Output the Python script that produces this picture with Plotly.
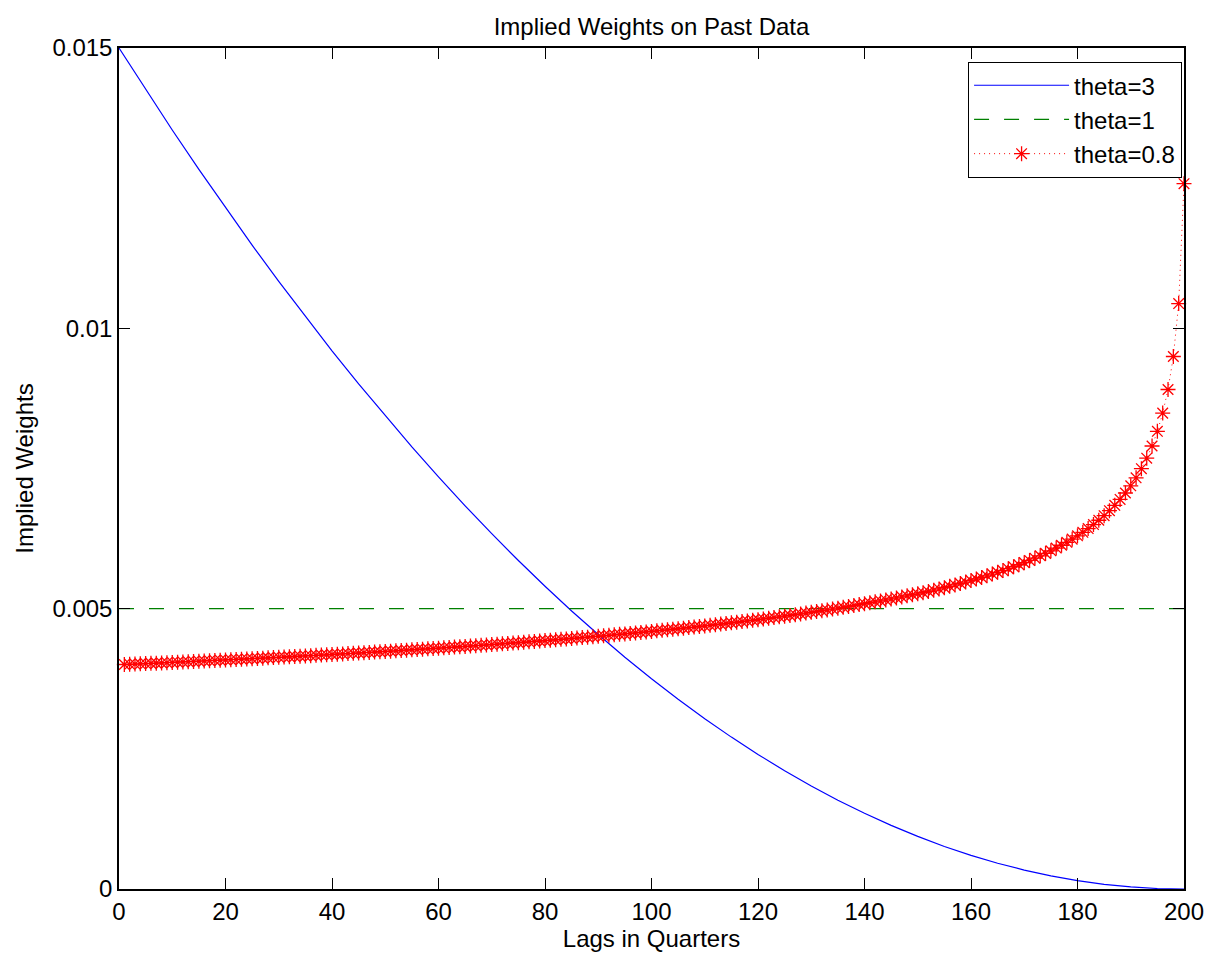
import plotly.graph_objects as go

# ---------------- data ----------------
lags_theta3 = list(range(0, 201, 5))
w_theta3 = [
    0.015000, 0.014259, 0.013538, 0.012834, 0.012150, 0.011484, 0.010838, 0.010209,
    0.009600, 0.009009, 0.008438, 0.007884, 0.007350, 0.006834, 0.006338, 0.005859,
    0.005400, 0.004959, 0.004538, 0.004134, 0.003750, 0.003384, 0.003038, 0.002709,
    0.002400, 0.002109, 0.001838, 0.001584, 0.001350, 0.001134, 0.000938, 0.000759,
    0.000600, 0.000459, 0.000338, 0.000234, 0.000150, 0.000084, 0.000038, 0.000009,
    0.000000,
]

lags_theta1 = [0, 200]
w_theta1 = [0.005, 0.005]

lags_theta08 = list(range(1, 201))
w_theta08 = [
    0.0040040, 0.0040081, 0.0040121, 0.0040162, 0.0040203, 0.0040244, 0.0040285, 0.0040327, 0.0040369, 0.0040412,
    0.0040454, 0.0040497, 0.0040540, 0.0040584, 0.0040629, 0.0040672, 0.0040716, 0.0040761, 0.0040806, 0.0040852,
    0.0040897, 0.0040943, 0.0040989, 0.0041036, 0.0041083, 0.0041130, 0.0041178, 0.0041226, 0.0041274, 0.0041322,
    0.0041371, 0.0041420, 0.0041470, 0.0041520, 0.0041569, 0.0041620, 0.0041671, 0.0041723, 0.0041774, 0.0041826,
    0.0041879, 0.0041932, 0.0041986, 0.0042040, 0.0042092, 0.0042147, 0.0042202, 0.0042257, 0.0042313, 0.0042369,
    0.0042426, 0.0042483, 0.0042541, 0.0042599, 0.0042657, 0.0042716, 0.0042776, 0.0042836, 0.0042897, 0.0042958,
    0.0043020, 0.0043082, 0.0043145, 0.0043209, 0.0043271, 0.0043336, 0.0043401, 0.0043467, 0.0043533, 0.0043599,
    0.0043667, 0.0043735, 0.0043804, 0.0043873, 0.0043942, 0.0044013, 0.0044085, 0.0044158, 0.0044230, 0.0044303,
    0.0044377, 0.0044452, 0.0044528, 0.0044605, 0.0044681, 0.0044760, 0.0044839, 0.0044919, 0.0044999, 0.0045080,
    0.0045163, 0.0045246, 0.0045331, 0.0045416, 0.0045502, 0.0045590, 0.0045679, 0.0045768, 0.0045858, 0.0045948,
    0.0046041, 0.0046135, 0.0046230, 0.0046326, 0.0046422, 0.0046521, 0.0046621, 0.0046721, 0.0046823, 0.0046926,
    0.0047031, 0.0047138, 0.0047246, 0.0047356, 0.0047466, 0.0047579, 0.0047693, 0.0047809, 0.0047926, 0.0048045,
    0.0048166, 0.0048289, 0.0048414, 0.0048541, 0.0048669, 0.0048800, 0.0048933, 0.0049068, 0.0049206, 0.0049345,
    0.0049487, 0.0049631, 0.0049778, 0.0049928, 0.0050082, 0.0050237, 0.0050396, 0.0050558, 0.0050723, 0.0050890,
    0.0051051, 0.0051216, 0.0051385, 0.0051558, 0.0051734, 0.0051917, 0.0052103, 0.0052293, 0.0052486, 0.0052646,
    0.0052856, 0.0053072, 0.0053292, 0.0053519, 0.0053752, 0.0053990, 0.0054235, 0.0054487, 0.0054747, 0.0055014,
    0.0055288, 0.0055571, 0.0055863, 0.0056165, 0.0056476, 0.0056799, 0.0057133, 0.0057478, 0.0057837, 0.0058209,
    0.0058597, 0.0059001, 0.0059421, 0.0059861, 0.0060320, 0.0060802, 0.0061308, 0.0061840, 0.0062400, 0.0062993,
    0.0063622, 0.0064291, 0.0065003, 0.0065766, 0.0066585, 0.0067470, 0.0068431, 0.0069480, 0.0070634, 0.0071914,
    0.0073345, 0.0074969, 0.0076833, 0.0079016, 0.0081633, 0.0084877, 0.0089090, 0.0094980, 0.0104421, 0.0125805,
]

x_ticks = [0, 20, 40, 60, 80, 100, 120, 140, 160, 180, 200]
y_ticks = [0, 0.005, 0.01, 0.015]
y_tick_labels = ["0", "0.005", "0.01", "0.015"]

FONT = "Liberation Sans, Arial, Helvetica, sans-serif"
FS = 24

fig = go.Figure()
fig.add_trace(go.Scatter(
    x=lags_theta3, y=w_theta3, mode="lines", name="theta=3",
    line=dict(color="#0000ff", width=1.2),
))
fig.add_trace(go.Scatter(
    x=lags_theta1, y=w_theta1, mode="lines", name="theta=1",
    line=dict(color="#008000", width=1.3, dash="15px,15px"),
))
fig.add_trace(go.Scatter(
    x=lags_theta08, y=w_theta08, mode="lines+markers", name="theta=0.8",
    line=dict(color="#ff0000", width=1, dash="1px,4px"),
    marker=dict(symbol="asterisk-open", size=12.5, color="#ff0000",
                line=dict(color="#ff0000", width=1.3)),
    cliponaxis=False,
))

axis_common = dict(
    ticks="inside", ticklen=11, tickwidth=1, tickcolor="black",
    showline=True, linecolor="black", linewidth=1.5, mirror="ticks",
    showgrid=False, zeroline=False,
    tickfont=dict(size=FS, family=FONT, color="black"),
)

fig.update_layout(
    width=1216, height=959,
    margin=dict(l=119, r=27, t=48, b=67),
    paper_bgcolor="white", plot_bgcolor="white",
    font=dict(family=FONT, size=FS, color="black"),
    title=dict(text="Implied Weights on Past Data", x=0.5, xref="paper",
               y=1 - 27 / 959, yref="container", yanchor="middle",
               font=dict(size=FS, family=FONT, color="black")),
    xaxis=dict(range=[0, 200], tickvals=x_ticks,
               title=dict(text="Lags in Quarters", standoff=6,
                          font=dict(size=FS, family=FONT, color="black")),
               **axis_common),
    yaxis=dict(range=[0, 0.015], tickvals=y_ticks, ticktext=y_tick_labels,
               title=dict(text="Implied Weights", standoff=12,
                          font=dict(size=FS, family=FONT, color="black")),
               **axis_common),
    legend=dict(x=0.998, y=0.9834, xanchor="right", yanchor="top",
                bordercolor="black", borderwidth=1.2, bgcolor="white",
                font=dict(size=FS, family=FONT, color="black"),
                itemwidth=95, tracegroupgap=0),
    showlegend=True,
)

fig.write_html("out.html", config={"displayModeBar": False},
               post_script="document.body.style.margin='0';")
